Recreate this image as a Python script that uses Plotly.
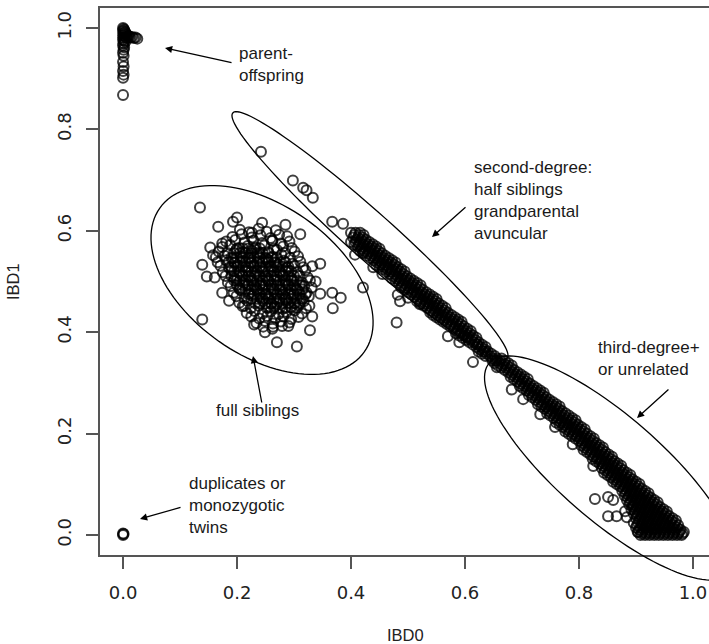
import math
import plotly.graph_objects as go

# ---------------- data (IBD0, IBD1) ----------------
parent_offspring = [
    (0.000, 1.000), (0.001, 0.998), (0.002, 0.996), (0.000, 0.994), (0.003, 0.993), (0.001, 0.990),
    (0.004, 0.991), (0.002, 0.987), (0.000, 0.985), (0.005, 0.988), (0.007, 0.986), (0.003, 0.983),
    (0.001, 0.980), (0.009, 0.984), (0.011, 0.983), (0.006, 0.981), (0.000, 0.977), (0.002, 0.975),
    (0.013, 0.981), (0.016, 0.982), (0.004, 0.973), (0.001, 0.970), (0.019, 0.980), (0.022, 0.981),
    (0.025, 0.979), (0.000, 0.966), (0.002, 0.962), (0.001, 0.957), (0.000, 0.951), (0.001, 0.945),
    (0.000, 0.933), (0.001, 0.924), (0.000, 0.915), (0.001, 0.908), (0.000, 0.902), (0.000, 0.868),
]

duplicates = [(0.000, 0.000), (0.001, 0.002), (0.000, 0.003)]

full_siblings = [
    # fringe
    (0.135, 0.646), (0.167, 0.608), (0.193, 0.618), (0.200, 0.626), (0.244, 0.616), (0.226, 0.596),
    (0.311, 0.593), (0.153, 0.567), (0.174, 0.575), (0.139, 0.533), (0.147, 0.510), (0.161, 0.508),
    (0.174, 0.478), (0.139, 0.425), (0.332, 0.530), (0.346, 0.535), (0.346, 0.476), (0.367, 0.478),
    (0.382, 0.468), (0.368, 0.447), (0.332, 0.431), (0.249, 0.400), (0.263, 0.411), (0.270, 0.380),
    (0.305, 0.372), (0.328, 0.404), (0.158, 0.552), (0.327, 0.452), (0.338, 0.500), (0.213, 0.452),
    (0.186, 0.462), (0.290, 0.412), (0.230, 0.415), (0.285, 0.612), (0.262, 0.581),
    # body
    (0.205, 0.602), (0.221, 0.597), (0.238, 0.604), (0.252, 0.598), (0.268, 0.601),
    (0.192, 0.588), (0.208, 0.593), (0.226, 0.587), (0.241, 0.591), (0.259, 0.586), (0.274, 0.592), (0.288, 0.589),
    (0.181, 0.579), (0.197, 0.582), (0.213, 0.577), (0.229, 0.581), (0.244, 0.576), (0.262, 0.580), (0.277, 0.575), (0.292, 0.579),
    (0.174, 0.568), (0.188, 0.572), (0.204, 0.566), (0.219, 0.570), (0.233, 0.567), (0.248, 0.571), (0.265, 0.565), (0.281, 0.569), (0.296, 0.566),
    (0.168, 0.559), (0.183, 0.556), (0.198, 0.561), (0.211, 0.557), (0.226, 0.560), (0.240, 0.555), (0.255, 0.558), (0.270, 0.562), (0.284, 0.556), (0.301, 0.559),
    (0.163, 0.548), (0.178, 0.551), (0.193, 0.546), (0.207, 0.550), (0.222, 0.547), (0.236, 0.552), (0.251, 0.545), (0.263, 0.549), (0.278, 0.553), (0.293, 0.547), (0.307, 0.550),
    (0.166, 0.538), (0.181, 0.542), (0.196, 0.537), (0.210, 0.541), (0.224, 0.536), (0.239, 0.540), (0.254, 0.543), (0.268, 0.537), (0.282, 0.541), (0.297, 0.535), (0.311, 0.539),
    (0.171, 0.531), (0.186, 0.527), (0.201, 0.532), (0.215, 0.528), (0.229, 0.531), (0.243, 0.526), (0.257, 0.530), (0.272, 0.533), (0.287, 0.527), (0.301, 0.531), (0.316, 0.528),
    (0.175, 0.518), (0.190, 0.522), (0.204, 0.517), (0.219, 0.521), (0.233, 0.516), (0.248, 0.520), (0.262, 0.523), (0.276, 0.517), (0.291, 0.521), (0.306, 0.518), (0.320, 0.522),
    (0.180, 0.511), (0.195, 0.507), (0.209, 0.512), (0.223, 0.508), (0.238, 0.511), (0.252, 0.506), (0.266, 0.510), (0.281, 0.513), (0.295, 0.507), (0.310, 0.511), (0.324, 0.508),
    (0.184, 0.498), (0.199, 0.502), (0.213, 0.497), (0.228, 0.501), (0.242, 0.496), (0.256, 0.500), (0.270, 0.503), (0.285, 0.497), (0.299, 0.501), (0.314, 0.498), (0.328, 0.502),
    (0.189, 0.491), (0.204, 0.487), (0.218, 0.492), (0.232, 0.488), (0.246, 0.491), (0.261, 0.486), (0.275, 0.490), (0.289, 0.493), (0.303, 0.487), (0.318, 0.491), (0.331, 0.488),
    (0.194, 0.478), (0.208, 0.482), (0.222, 0.477), (0.237, 0.481), (0.251, 0.476), (0.265, 0.480), (0.279, 0.483), (0.293, 0.477), (0.308, 0.481), (0.322, 0.478),
    (0.199, 0.471), (0.213, 0.467), (0.227, 0.472), (0.241, 0.468), (0.255, 0.471), (0.269, 0.466), (0.284, 0.470), (0.298, 0.473), (0.312, 0.467), (0.326, 0.471),
    (0.204, 0.458), (0.218, 0.462), (0.232, 0.457), (0.246, 0.461), (0.260, 0.456), (0.274, 0.460), (0.288, 0.463), (0.302, 0.457), (0.317, 0.461),
    (0.210, 0.451), (0.224, 0.447), (0.238, 0.452), (0.252, 0.448), (0.266, 0.451), (0.280, 0.446), (0.294, 0.450), (0.308, 0.453), (0.321, 0.447),
    (0.217, 0.438), (0.231, 0.442), (0.245, 0.437), (0.259, 0.441), (0.273, 0.436), (0.287, 0.440), (0.301, 0.443), (0.314, 0.437),
    (0.225, 0.431), (0.239, 0.427), (0.253, 0.432), (0.267, 0.428), (0.281, 0.431), (0.295, 0.426), (0.308, 0.430),
    (0.234, 0.418), (0.249, 0.422), (0.263, 0.417), (0.277, 0.421), (0.292, 0.419),
    (0.246, 0.411), (0.262, 0.407), (0.279, 0.412),
]
# densest centre of the full-sibling cloud: (IBD1, [IBD0 values])
full_sibling_core_rows = [
    (0.565, [0.200, 0.210, 0.220, 0.230, 0.240]),
    (0.556, [0.195, 0.205, 0.215, 0.225, 0.235, 0.245, 0.255]),
    (0.547, [0.190, 0.200, 0.210, 0.220, 0.230, 0.240, 0.250, 0.260, 0.270]),
    (0.538, [0.185, 0.195, 0.205, 0.215, 0.225, 0.235, 0.245, 0.255, 0.265, 0.275, 0.285]),
    (0.529, [0.190, 0.200, 0.210, 0.220, 0.230, 0.240, 0.250, 0.260, 0.270, 0.280, 0.290]),
    (0.520, [0.195, 0.205, 0.215, 0.225, 0.235, 0.245, 0.255, 0.265, 0.275, 0.285, 0.295]),
    (0.511, [0.190, 0.200, 0.210, 0.220, 0.230, 0.240, 0.250, 0.260, 0.270, 0.280, 0.290, 0.300]),
    (0.502, [0.195, 0.205, 0.215, 0.225, 0.235, 0.245, 0.255, 0.265, 0.275, 0.285, 0.295, 0.305]),
    (0.493, [0.200, 0.210, 0.220, 0.230, 0.240, 0.250, 0.260, 0.270, 0.280, 0.290, 0.300, 0.310]),
    (0.484, [0.205, 0.215, 0.225, 0.235, 0.245, 0.255, 0.265, 0.275, 0.285, 0.295, 0.305, 0.315]),
    (0.475, [0.220, 0.230, 0.240, 0.250, 0.260, 0.270, 0.280, 0.290, 0.300, 0.310, 0.320]),
    (0.466, [0.225, 0.235, 0.245, 0.255, 0.265, 0.275, 0.285, 0.295, 0.305, 0.315]),
    (0.457, [0.240, 0.250, 0.260, 0.270, 0.280, 0.290, 0.300, 0.310]),
    (0.448, [0.255, 0.265, 0.275, 0.285, 0.295, 0.305]),
]

second_degree_scatter = [
    (0.242, 0.756), (0.298, 0.699), (0.316, 0.685), (0.322, 0.680), (0.333, 0.665), (0.367, 0.618),
    (0.386, 0.614), (0.407, 0.553), (0.421, 0.557), (0.439, 0.528), (0.421, 0.488), (0.482, 0.474),
    (0.486, 0.461), (0.480, 0.419), (0.521, 0.455), (0.539, 0.439), (0.570, 0.392), (0.604, 0.390),
    (0.614, 0.341), (0.621, 0.376), (0.635, 0.362), (0.455, 0.515), (0.500, 0.468), (0.590, 0.380),
]
second_degree_rows = [
    (0.596, [0.400, 0.408, 0.416]),
    (0.5915, [0.406, 0.414, 0.422]),
    (0.587, [0.404, 0.412, 0.420]),
    (0.5825, [0.410, 0.418, 0.426]),
    (0.578, [0.400, 0.408, 0.416, 0.424, 0.432]),
    (0.5735, [0.406, 0.414, 0.422, 0.430, 0.438]),
    (0.569, [0.412, 0.420, 0.428, 0.436, 0.444]),
    (0.5645, [0.418, 0.426, 0.434, 0.442, 0.450]),
    (0.560, [0.416, 0.424, 0.432, 0.440, 0.448]),
    (0.5555, [0.422, 0.430, 0.438, 0.446, 0.454]),
    (0.551, [0.428, 0.436, 0.444, 0.452, 0.460]),
    (0.5465, [0.434, 0.442, 0.450, 0.458, 0.466]),
    (0.542, [0.440, 0.448, 0.456, 0.464, 0.472]),
    (0.5375, [0.446, 0.454, 0.462, 0.470, 0.478]),
    (0.533, [0.444, 0.452, 0.460, 0.468, 0.476]),
    (0.5285, [0.450, 0.458, 0.466, 0.474, 0.482]),
    (0.524, [0.456, 0.464, 0.472, 0.480, 0.488]),
    (0.5195, [0.462, 0.470, 0.478, 0.486, 0.494]),
    (0.515, [0.468, 0.476, 0.484, 0.492]),
    (0.5105, [0.474, 0.482, 0.490, 0.498]),
    (0.506, [0.472, 0.480, 0.488, 0.496, 0.504]),
    (0.5015, [0.478, 0.486, 0.494, 0.502, 0.510]),
    (0.497, [0.484, 0.492, 0.500, 0.508, 0.516]),
    (0.4925, [0.490, 0.498, 0.506, 0.514, 0.522]),
    (0.488, [0.488, 0.496, 0.504, 0.512, 0.520]),
    (0.4835, [0.494, 0.502, 0.510, 0.518, 0.526]),
    (0.479, [0.500, 0.508, 0.516, 0.524, 0.532]),
    (0.4745, [0.506, 0.514, 0.522, 0.530, 0.538]),
    (0.470, [0.512, 0.520, 0.528, 0.536, 0.544]),
    (0.4655, [0.518, 0.526, 0.534, 0.542, 0.550]),
    (0.461, [0.516, 0.524, 0.532, 0.540, 0.548]),
    (0.4565, [0.522, 0.530, 0.538, 0.546, 0.554]),
    (0.452, [0.528, 0.536, 0.544, 0.552, 0.560]),
    (0.4475, [0.534, 0.542, 0.550, 0.558, 0.566]),
    (0.443, [0.540, 0.548, 0.556, 0.564]),
    (0.4385, [0.546, 0.554, 0.562, 0.570]),
    (0.434, [0.544, 0.552, 0.560, 0.568, 0.576]),
    (0.4295, [0.550, 0.558, 0.566, 0.574, 0.582]),
    (0.425, [0.556, 0.564, 0.572, 0.580, 0.588]),
    (0.4205, [0.562, 0.570, 0.578, 0.586, 0.594]),
    (0.416, [0.568, 0.576, 0.584, 0.592]),
    (0.4115, [0.574, 0.582, 0.590, 0.598]),
    (0.407, [0.580, 0.588, 0.596, 0.604]),
    (0.4025, [0.586, 0.594, 0.602, 0.610]),
    (0.398, [0.584, 0.592, 0.600, 0.608]),
    (0.3935, [0.590, 0.598, 0.606, 0.614]),
    (0.389, [0.596, 0.604, 0.612, 0.620]),
    (0.3845, [0.602, 0.610, 0.618]),
    (0.380, [0.608, 0.616, 0.624]),
    (0.3755, [0.614, 0.622, 0.630]),
    (0.371, [0.620, 0.628, 0.636]),
    (0.3665, [0.626, 0.634]),
    (0.362, [0.624, 0.632, 0.640]),
    (0.3575, [0.630, 0.638, 0.646]),
    (0.353, [0.636, 0.644, 0.652]),
    (0.344, [0.648, 0.656]),
]

third_degree_scatter = [
    (0.656, 0.331), (0.682, 0.287), (0.702, 0.268), (0.732, 0.238), (0.758, 0.213), (0.789, 0.179),
    (0.825, 0.136), (0.828, 0.071), (0.851, 0.075), (0.860, 0.069), (0.851, 0.037), (0.866, 0.037),
    (0.884, 0.035), (0.881, 0.047), (0.895, 0.057), (0.903, 0.006), (0.921, 0.026), (0.933, 0.012),
]
third_degree_rows = [
    (0.348, [0.648, 0.656, 0.664]),
    (0.3435, [0.654, 0.662, 0.670]),
    (0.339, [0.652, 0.660, 0.668, 0.676]),
    (0.3345, [0.658, 0.666, 0.674, 0.682]),
    (0.330, [0.664, 0.672, 0.680]),
    (0.3255, [0.670, 0.678, 0.686]),
    (0.321, [0.676, 0.684, 0.692]),
    (0.3165, [0.682, 0.690, 0.698]),
    (0.312, [0.680, 0.688, 0.696, 0.704]),
    (0.3075, [0.686, 0.694, 0.702, 0.710]),
    (0.303, [0.692, 0.700, 0.708]),
    (0.2985, [0.698, 0.706, 0.714]),
    (0.294, [0.696, 0.704, 0.712, 0.720]),
    (0.2895, [0.702, 0.710, 0.718, 0.726]),
    (0.285, [0.708, 0.716, 0.724, 0.732]),
    (0.2805, [0.714, 0.722, 0.730, 0.738]),
    (0.276, [0.712, 0.720, 0.728, 0.736]),
    (0.2715, [0.718, 0.726, 0.734, 0.742]),
    (0.267, [0.724, 0.732, 0.740, 0.748]),
    (0.2625, [0.730, 0.738, 0.746, 0.754]),
    (0.258, [0.728, 0.736, 0.744, 0.752, 0.760]),
    (0.2535, [0.734, 0.742, 0.750, 0.758, 0.766]),
    (0.249, [0.740, 0.748, 0.756, 0.764]),
    (0.2445, [0.746, 0.754, 0.762, 0.770]),
    (0.240, [0.744, 0.752, 0.760, 0.768, 0.776]),
    (0.2355, [0.750, 0.758, 0.766, 0.774, 0.782]),
    (0.231, [0.756, 0.764, 0.772, 0.780, 0.788]),
    (0.2265, [0.762, 0.770, 0.778, 0.786, 0.794]),
    (0.222, [0.760, 0.768, 0.776, 0.784, 0.792]),
    (0.2175, [0.766, 0.774, 0.782, 0.790, 0.798]),
    (0.213, [0.772, 0.780, 0.788, 0.796, 0.804]),
    (0.2085, [0.778, 0.786, 0.794, 0.802, 0.810]),
    (0.204, [0.776, 0.784, 0.792, 0.800, 0.808]),
    (0.1995, [0.782, 0.790, 0.798, 0.806, 0.814]),
    (0.195, [0.788, 0.796, 0.804, 0.812, 0.820]),
    (0.1905, [0.794, 0.802, 0.810, 0.818, 0.826]),
    (0.186, [0.800, 0.808, 0.816, 0.824]),
    (0.1815, [0.806, 0.814, 0.822, 0.830]),
    (0.177, [0.804, 0.812, 0.820, 0.828, 0.836]),
    (0.1725, [0.810, 0.818, 0.826, 0.834, 0.842]),
    (0.168, [0.808, 0.816, 0.824, 0.832, 0.840]),
    (0.1635, [0.814, 0.822, 0.830, 0.838, 0.846]),
    (0.159, [0.820, 0.828, 0.836, 0.844, 0.852]),
    (0.1545, [0.826, 0.834, 0.842, 0.850, 0.858]),
    (0.150, [0.824, 0.832, 0.840, 0.848, 0.856]),
    (0.1455, [0.830, 0.838, 0.846, 0.854, 0.862]),
    (0.141, [0.836, 0.844, 0.852, 0.860, 0.868]),
    (0.1365, [0.842, 0.850, 0.858, 0.866, 0.874]),
    (0.132, [0.840, 0.848, 0.856, 0.864, 0.872]),
    (0.1275, [0.846, 0.854, 0.862, 0.870, 0.878]),
    (0.123, [0.844, 0.852, 0.860, 0.868, 0.876, 0.884]),
    (0.1185, [0.850, 0.858, 0.866, 0.874, 0.882, 0.890]),
    (0.114, [0.856, 0.864, 0.872, 0.880, 0.888]),
    (0.1095, [0.862, 0.870, 0.878, 0.886, 0.894]),
    (0.105, [0.860, 0.868, 0.876, 0.884, 0.892, 0.900]),
    (0.1005, [0.866, 0.874, 0.882, 0.890, 0.898, 0.906]),
    (0.096, [0.872, 0.880, 0.888, 0.896, 0.904]),
    (0.0915, [0.878, 0.886, 0.894, 0.902, 0.910]),
    (0.087, [0.876, 0.884, 0.892, 0.900, 0.908, 0.916]),
    (0.0825, [0.882, 0.890, 0.898, 0.906, 0.914, 0.922]),
    (0.078, [0.880, 0.888, 0.896, 0.904, 0.912, 0.920]),
    (0.0735, [0.886, 0.894, 0.902, 0.910, 0.918, 0.926]),
    (0.069, [0.884, 0.892, 0.900, 0.908, 0.916, 0.924, 0.932]),
    (0.0645, [0.890, 0.898, 0.906, 0.914, 0.922, 0.930, 0.938]),
    (0.060, [0.888, 0.896, 0.904, 0.912, 0.920, 0.928, 0.936]),
    (0.0555, [0.894, 0.902, 0.910, 0.918, 0.926, 0.934, 0.942]),
    (0.051, [0.892, 0.900, 0.908, 0.916, 0.924, 0.932, 0.940, 0.948]),
    (0.0465, [0.898, 0.906, 0.914, 0.922, 0.930, 0.938, 0.946, 0.954]),
    (0.042, [0.896, 0.904, 0.912, 0.920, 0.928, 0.936, 0.944, 0.952]),
    (0.0375, [0.902, 0.910, 0.918, 0.926, 0.934, 0.942, 0.950, 0.958]),
    (0.033, [0.900, 0.908, 0.916, 0.924, 0.932, 0.940, 0.948, 0.956, 0.964]),
    (0.0285, [0.906, 0.914, 0.922, 0.930, 0.938, 0.946, 0.954, 0.962, 0.970]),
    (0.024, [0.896, 0.904, 0.912, 0.920, 0.928, 0.936, 0.944, 0.952, 0.960, 0.968]),
    (0.0195, [0.902, 0.910, 0.918, 0.926, 0.934, 0.942, 0.950, 0.958, 0.966, 0.974]),
    (0.015, [0.900, 0.908, 0.916, 0.924, 0.932, 0.940, 0.948, 0.956, 0.964, 0.972]),
    (0.0105, [0.906, 0.914, 0.922, 0.930, 0.938, 0.946, 0.954, 0.962, 0.970, 0.978]),
    (0.006, [0.904, 0.912, 0.920, 0.928, 0.936, 0.944, 0.952, 0.960, 0.968, 0.976, 0.984]),
    (0.003, [0.910, 0.918, 0.926, 0.934, 0.942, 0.950, 0.958, 0.966, 0.974, 0.982]),
    (0.000, [0.908, 0.916, 0.924, 0.932, 0.940, 0.948, 0.956, 0.964, 0.972, 0.980]),
]

x_ticks = [0.0, 0.2, 0.4, 0.6, 0.8, 1.0]
x_tick_labels = ["0.0", "0.2", "0.4", "0.6", "0.8", "1.0"]
y_ticks = [0.0, 0.2, 0.4, 0.6, 0.8, 1.0]
y_tick_labels = ["0.0", "0.2", "0.4", "0.6", "0.8", "1.0"]


def expand_rows(rows):
    return [(x, y) for y, xs in rows for x in xs]


# ---------------- layout geometry ----------------
W, H = 709, 644
ML, MR, MT, MB = 100, 0, 8, 89
XR = [-0.0404, 1.0281]
YR = [-0.0394, 1.0394]
PW, PH = W - ML - MR, H - MT - MB
SX = PW / (XR[1] - XR[0])  # px per data unit
SY = PH / (YR[1] - YR[0])

fig = go.Figure()
all_points = (parent_offspring + duplicates + full_siblings + expand_rows(full_sibling_core_rows)
              + second_degree_scatter + expand_rows(second_degree_rows)
              + third_degree_scatter + expand_rows(third_degree_rows))
fig.add_trace(go.Scatter(
    x=[p[0] for p in all_points], y=[p[1] for p in all_points],
    mode="markers", hoverinfo="skip", showlegend=False,
    marker=dict(symbol="circle-open", size=10, color="rgba(0,0,0,0.75)", line=dict(width=2.0)),
    cliponaxis=False,
))

# ellipses: center in data units, semi-axes in px, tilt (deg, clockwise on screen)
ellipses = [
    (0.2439, 0.5030, 125, 75, 35.0),
    (0.4333, 0.5907, 184, 23, 41.8),
    (0.8544, 0.1321, 160, 52, 41.0),
]
for cx, cy, a, b, ang in ellipses:
    t = math.radians(ang)
    pts = []
    for i in range(121):
        s = 2 * math.pi * i / 120
        dxp = a * math.cos(s) * math.cos(t) - b * math.sin(s) * math.sin(t)
        dyp = a * math.cos(s) * math.sin(t) + b * math.sin(s) * math.cos(t)
        xd = cx + dxp / SX
        yd = cy - dyp / SY
        px_ = (xd - XR[0]) / (XR[1] - XR[0])
        py_ = (yd - YR[0]) / (YR[1] - YR[0])
        pts.append(f"{px_:.5f},{py_:.5f}")
    fig.add_shape(type="path", xref="paper", yref="paper",
                  path="M" + " L".join(pts) + " Z", line=dict(color="black", width=1.3))

# arrows (head, tail) in data units
arrows = [
    ((0.0737, 0.9606), (0.1930, 0.9310)),
    ((0.5421, 0.5878), (0.6035, 0.6489)),
    ((0.9018, 0.2308), (0.9596, 0.2899)),
    ((0.2281, 0.3531), (0.2439, 0.2584)),
    ((0.0298, 0.0316), (0.1035, 0.0552)),
]
for (hx, hy), (tx, ty) in arrows:
    fig.add_annotation(x=hx, y=hy, ax=tx, ay=ty, xref="x", yref="y", axref="x", ayref="y",
                       text="", showarrow=True, arrowhead=2, arrowsize=1.1, arrowwidth=1.3,
                       arrowcolor="black")

labels = [
    (0.200, 0.927, "parent-<br>offspring", "left"),
    (0.6123, 0.6607, "second-degree:<br>half siblings<br>grandparental<br>avuncular", "left"),
    (0.8298, 0.349, "third-degree+<br>or unrelated", "left"),
    (0.2368, 0.2465, "full siblings", "center"),
    (0.1123, 0.0592, "duplicates or<br>monozygotic<br>twins", "left"),
]
for x, y, txt, anc in labels:
    fig.add_annotation(x=x, y=y, xref="x", yref="y", text=txt, showarrow=False,
                       xanchor=anc, yanchor="middle", align="left",
                       font=dict(family="Liberation Sans, Arial", size=17, color="#1a1a1a"))

# axis titles
fig.add_annotation(x=(405 - ML) / PW, y=(MT + PH - 635) / PH, xref="paper", yref="paper",
                   xanchor="center", yanchor="middle",
                   text="IBD0", showarrow=False, font=dict(family="Liberation Sans, Arial", size=16.5, color="#222"))
fig.add_annotation(x=(13 - ML) / PW, y=(MT + PH - 282) / PH, xref="paper", yref="paper",
                   xanchor="center", yanchor="middle",
                   text="IBD1", textangle=-90, showarrow=False,
                   font=dict(family="Liberation Sans, Arial", size=16.5, color="#222"))

axis_common = dict(showgrid=False, zeroline=False, ticks="outside", ticklen=12, tickwidth=1.5,
                   tickcolor="#555", showline=True, linecolor="#555", linewidth=2,
                   tickfont=dict(family="DejaVu Sans", size=18, color="#222"))
fig.update_xaxes(range=XR, tickvals=x_ticks, ticktext=x_tick_labels, mirror=True,
                 ticklabelstandoff=8, **axis_common)
fig.update_yaxes(range=YR, tickvals=y_ticks, ticktext=y_tick_labels, tickangle=-90,
                 ticklabelstandoff=8, **axis_common)
fig.update_layout(width=W, height=H, margin=dict(l=ML, r=MR, t=MT, b=MB, pad=0),
                  plot_bgcolor="white", paper_bgcolor="white", showlegend=False)
fig.write_html("out.html")
